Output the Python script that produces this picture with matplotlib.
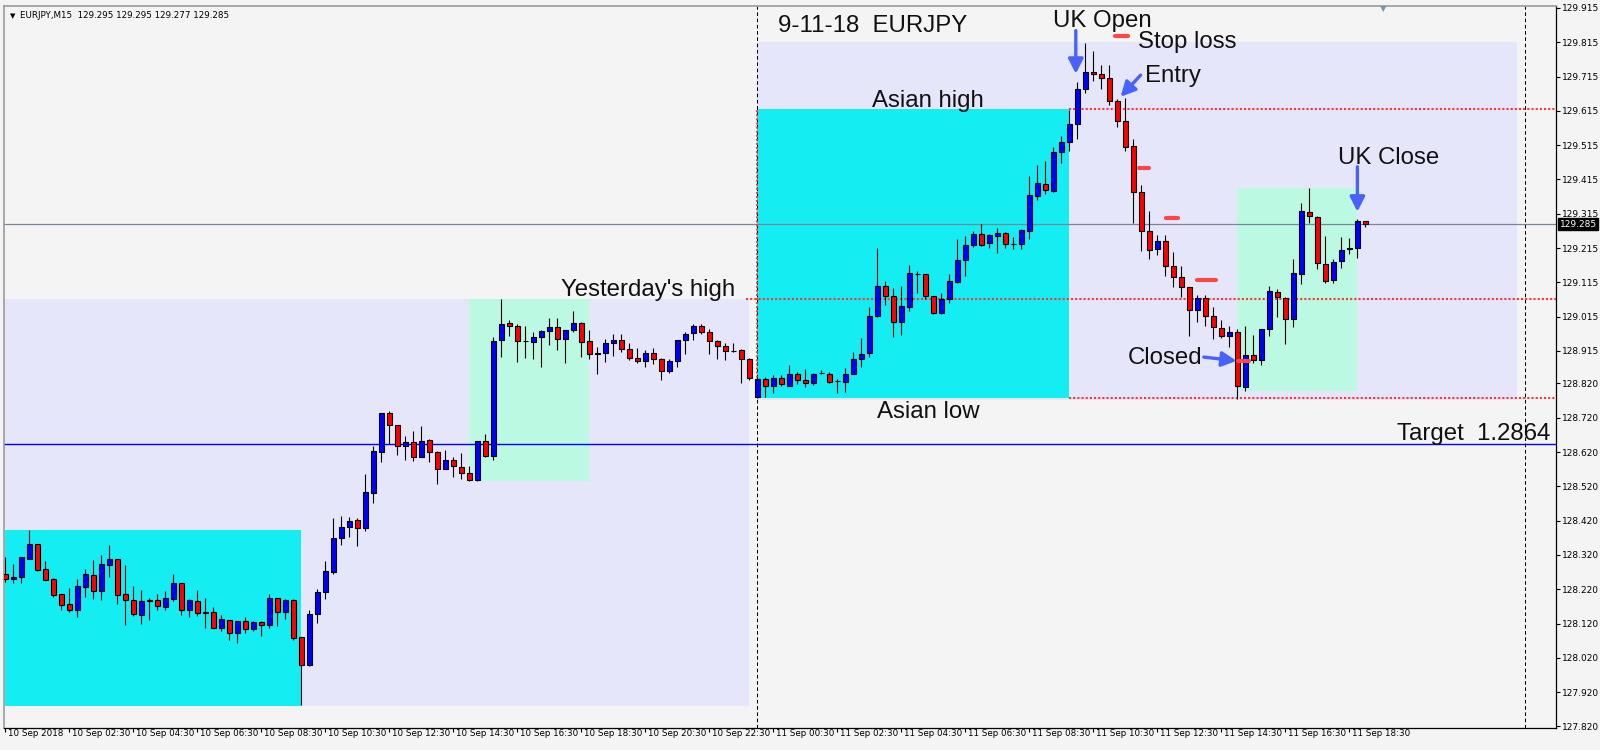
import matplotlib
matplotlib.use("Agg")
import matplotlib.pyplot as plt
import matplotlib.transforms as mtransforms
from matplotlib.patches import Rectangle

plt.rcParams['font.family'] = ['Liberation Sans', 'DejaVu Sans']

# ---------------- data (EURJPY M15, bar 0 = 10 Sep 2018 00:30) ----------------
open_ = [128.265, 128.251, 128.257, 128.309, 128.352, 128.278, 128.249, 128.205, 128.177, 128.160,
         128.228, 128.261, 128.216, 128.292, 128.307, 128.205, 128.188, 128.146, 128.187, 128.188,
         128.169, 128.192, 128.237, 128.160, 128.185, 128.153, 128.153, 128.108, 128.130, 128.093,
         128.129, 128.105, 128.124, 128.117, 128.196, 128.155, 128.189, 128.080, 127.999, 128.149,
         128.211, 128.271, 128.369, 128.401, 128.422, 128.398, 128.500, 128.619, 128.733, 128.698,
         128.638, 128.648, 128.607, 128.654, 128.620, 128.570, 128.596, 128.576, 128.558, 128.540,
         128.651, 128.610, 128.946, 128.995, 128.988, 128.943, 128.940, 128.957, 128.972, 128.984,
         128.949, 128.975, 128.995, 128.943, 128.908, 128.908, 128.937, 128.946, 128.920, 128.893,
         128.885, 128.908, 128.890, 128.855, 128.885, 128.946, 128.966, 128.987, 128.969, 128.943,
         128.928, 128.916, 128.918, 128.890, 128.781, 128.833, 128.814, 128.835, 128.814, 128.849,
         128.830, 128.820, 128.852, 128.847, 128.826, 128.823, 128.849, 128.890, 128.908, 129.017,
         129.104, 129.074, 128.998, 129.044, 129.138, 129.138, 129.074, 129.026, 129.067, 129.117,
         129.180, 129.223, 129.256, 129.229, 129.251, 129.259, 129.226, 129.226, 129.266, 129.368,
         129.401, 129.382, 129.494, 129.523, 129.576, 129.678, 129.729, 129.721, 129.710, 129.644,
         129.585, 129.511, 129.377, 129.264, 129.211, 129.235, 129.164, 129.130, 129.100, 129.034,
         129.070, 129.016, 128.981, 128.958, 128.971, 128.811, 128.903, 128.888, 128.978, 129.086,
         129.070, 129.007, 129.138, 129.319, 129.306, 129.167, 129.122, 129.177, 129.213, 129.214,
         129.295]
high = [128.313, 128.294, 128.313, 128.393, 128.352, 128.302, 128.252, 128.205, 128.224, 128.249,
        128.279, 128.305, 128.320, 128.349, 128.307, 128.290, 128.230, 128.218, 128.196, 128.205,
        128.215, 128.264, 128.237, 128.192, 128.218, 128.194, 128.167, 128.145, 128.130, 128.129,
        128.139, 128.129, 128.129, 128.206, 128.196, 128.192, 128.193, 128.080, 128.159, 128.221,
        128.302, 128.429, 128.434, 128.432, 128.428, 128.556, 128.638, 128.733, 128.740, 128.698,
        128.667, 128.681, 128.696, 128.658, 128.623, 128.625, 128.606, 128.617, 128.579, 128.653,
        128.673, 128.957, 129.066, 129.005, 128.993, 128.988, 128.969, 128.976, 129.011, 129.011,
        128.975, 129.031, 128.999, 128.976, 128.927, 128.949, 128.964, 128.964, 128.937, 128.923,
        128.918, 128.923, 128.894, 128.890, 128.946, 128.969, 128.993, 128.993, 128.978, 128.947,
        128.939, 128.939, 128.920, 128.893, 128.840, 128.840, 128.845, 128.845, 128.874, 128.854,
        128.861, 128.852, 128.859, 128.854, 128.832, 128.864, 128.911, 128.952, 129.042, 129.214,
        129.119, 129.097, 129.104, 129.165, 129.149, 129.138, 129.076, 129.083, 129.139, 129.241,
        129.250, 129.264, 129.286, 129.256, 129.274, 129.261, 129.246, 129.270, 129.426, 129.457,
        129.469, 129.510, 129.542, 129.617, 129.700, 129.814, 129.789, 129.749, 129.749, 129.649,
        129.653, 129.533, 129.398, 129.323, 129.253, 129.253, 129.202, 129.163, 129.102, 129.078,
        129.078, 129.042, 129.005, 128.987, 128.978, 128.987, 128.961, 128.979, 129.104, 129.095,
        129.073, 129.182, 129.345, 129.389, 129.309, 129.250, 129.182, 129.246, 129.243, 129.300,
        129.295]
low = [128.242, 128.237, 128.239, 128.309, 128.273, 128.248, 128.198, 128.159, 128.155, 128.140,
       128.198, 128.192, 128.189, 128.257, 128.177, 128.116, 128.142, 128.119, 128.130, 128.159,
       128.159, 128.186, 128.145, 128.140, 128.143, 128.107, 128.108, 128.098, 128.072, 128.064,
       128.093, 128.098, 128.084, 128.108, 128.113, 128.133, 128.072, 127.883, 127.997, 128.123,
       128.191, 128.266, 128.349, 128.373, 128.347, 128.391, 128.472, 128.592, 128.645, 128.612,
       128.597, 128.595, 128.605, 128.592, 128.528, 128.570, 128.548, 128.542, 128.537, 128.535,
       128.607, 128.597, 128.898, 128.959, 128.884, 128.894, 128.891, 128.869, 128.932, 128.918,
       128.881, 128.969, 128.898, 128.890, 128.849, 128.884, 128.900, 128.911, 128.888, 128.881,
       128.869, 128.876, 128.831, 128.852, 128.869, 128.907, 128.947, 128.963, 128.906, 128.891,
       128.888, 128.912, 128.822, 128.830, 128.778, 128.781, 128.793, 128.814, 128.814, 128.818,
       128.811, 128.817, 128.847, 128.820, 128.793, 128.796, 128.847, 128.867, 128.898, 129.013,
       129.048, 128.956, 128.961, 129.032, 129.083, 129.065, 129.024, 129.022, 129.056, 129.114,
       129.134, 129.219, 129.222, 129.216, 129.201, 129.216, 129.213, 129.212, 129.242, 129.355,
       129.373, 129.379, 129.464, 129.499, 129.534, 129.666, 129.703, 129.678, 129.632, 129.569,
       129.499, 129.289, 129.207, 129.182, 129.196, 129.134, 129.100, 129.073, 128.958, 129.000,
       128.989, 128.949, 128.952, 128.927, 128.774, 128.798, 128.879, 128.874, 128.958, 129.015,
       128.935, 128.984, 129.109, 129.289, 129.154, 129.112, 129.112, 129.158, 129.199, 129.185,
       129.277]
close = [128.251, 128.256, 128.313, 128.352, 128.276, 128.248, 128.204, 128.175, 128.160, 128.229,
         128.264, 128.216, 128.293, 128.307, 128.204, 128.190, 128.149, 128.186, 128.188, 128.172,
         128.196, 128.238, 128.160, 128.189, 128.152, 128.152, 128.108, 128.133, 128.093, 128.129,
         128.105, 128.124, 128.117, 128.196, 128.155, 128.189, 128.079, 127.998, 128.147, 128.211,
         128.272, 128.369, 128.401, 128.418, 128.398, 128.503, 128.622, 128.733, 128.698, 128.638,
         128.648, 128.605, 128.651, 128.619, 128.570, 128.596, 128.579, 128.558, 128.538, 128.651,
         128.610, 128.943, 128.993, 128.988, 128.943, 128.943, 128.956, 128.973, 128.984, 128.949,
         128.975, 128.995, 128.940, 128.905, 128.907, 128.937, 128.946, 128.920, 128.893, 128.885,
         128.908, 128.890, 128.855, 128.886, 128.946, 128.963, 128.987, 128.969, 128.945, 128.928,
         128.914, 128.916, 128.890, 128.835, 128.833, 128.814, 128.835, 128.818, 128.849, 128.830,
         128.820, 128.849, 128.852, 128.823, 128.826, 128.849, 128.890, 128.906, 129.017, 129.104,
         129.074, 128.998, 129.046, 129.141, 129.138, 129.076, 129.026, 129.067, 129.119, 129.180,
         129.223, 129.256, 129.225, 129.253, 129.259, 129.226, 129.226, 129.267, 129.369, 129.404,
         129.383, 129.495, 129.525, 129.576, 129.680, 129.729, 129.721, 129.710, 129.644, 129.585,
         129.509, 129.377, 129.264, 129.208, 129.235, 129.164, 129.130, 129.100, 129.034, 129.070,
         129.016, 128.985, 128.958, 128.971, 128.812, 128.903, 128.888, 128.978, 129.090, 129.073,
         129.007, 129.141, 129.323, 129.309, 129.170, 129.119, 129.173, 129.209, 129.214, 129.294,
         129.285]

time_labels = ["10 Sep 2018", "10 Sep 02:30", "10 Sep 04:30", "10 Sep 06:30", "10 Sep 08:30",
               "10 Sep 10:30", "10 Sep 12:30", "10 Sep 14:30", "10 Sep 16:30", "10 Sep 18:30",
               "10 Sep 20:30", "10 Sep 22:30", "11 Sep 00:30", "11 Sep 02:30", "11 Sep 04:30",
               "11 Sep 06:30", "11 Sep 08:30", "11 Sep 10:30", "11 Sep 12:30", "11 Sep 14:30",
               "11 Sep 16:30", "11 Sep 18:30"]
time_label_bars = [0, 8, 16, 24, 32, 40, 48, 56, 64, 72, 80, 88, 96, 104, 112, 120, 128, 136,
                   144, 152, 160, 168]
price_labels = ["129.915", "129.815", "129.715", "129.615", "129.515", "129.415", "129.315",
                "129.215", "129.115", "129.015", "128.915", "128.820", "128.720", "128.620",
                "128.520", "128.420", "128.320", "128.220", "128.120", "128.020", "127.920",
                "127.820"]
header = "EURJPY,M15  129.295 129.295 129.277 129.285"
last_price = 129.285
day_separator_bars = [94, 190]

# session rectangles
box_start = [0, 0, 58, 94, 94, 154]
box_end = [93, 37, 73, 189, 133, 169]
box_high = [129.066, 128.394, 129.066, 129.816, 129.620, 129.391]
box_low = [127.880, 127.880, 128.537, 128.772, 128.778, 128.798]
box_color = ['#e6e6fa', '#14eef2', '#bcf9e2', '#e6e6fa', '#14eef2', '#bcf9e2']

yesterday_high = 129.066
asian_high = 129.620
asian_low = 128.778
target = 128.645

# trailing stop marks
stop_bar_start = [138.7, 141.7, 145.1, 149.0, 154.1]
stop_bar_end = [140.3, 143.0, 146.6, 151.3, 155.5]
stop_price = [129.832, 129.449, 129.303, 129.123, 128.886]

# annotations
annot_text = ["9-11-18  EURJPY", "UK Open", "Stop loss", "Entry", "Asian high",
              "Yesterday's high", "Asian low", "UK Close", "Closed", "Target  1.2864"]
annot_bar = [96.6, 130.9, 141.6, 142.5, 108.3, 69.4, 108.9, 166.6, 140.3, 173.9]
annot_price = [129.846, 129.858, 129.798, 129.700, 129.626, 129.075, 128.719, 129.460,
               128.877, 128.655]

arrow_from_bar = [133.8, 141.9, 169.0, 149.8]
arrow_from_price = [129.849, 129.719, 129.452, 128.897]
arrow_to_bar = [133.8, 139.4, 169.0, 153.9]
arrow_to_price = [129.723, 129.656, 129.321, 128.886]

# ---------------- figure ----------------
BG = '#f4f4f4'
fig = plt.figure(figsize=(16, 7.5), dpi=100, facecolor=BG)
ax = fig.add_axes([4 / 1600, 1 - 728 / 750, 1552 / 1600, 722 / 750])
ax.set_facecolor(BG)
ax.set_xlim(-0.175, 193.825)
ax.set_ylim(127.8156, 129.9206)

# rectangles
for s, e, h, l, c in zip(box_start, box_end, box_high, box_low, box_color):
    ax.add_patch(Rectangle((s, l), e - s, h - l, facecolor=c, edgecolor='none', zorder=0.5))

# horizontal lines
xmax = 193.825
ax.axhline(last_price, color='#7a8696', lw=0.9, zorder=1)
ax.axhline(target, color='#0000ff', lw=1.0, zorder=1)
red_dot = '#ff3434'
ax.hlines(yesterday_high, 92.6, xmax, colors=red_dot, lw=1.5, linestyles=(0, (1, 1.0)), zorder=1.2)
ax.hlines([asian_high, asian_low], 133, xmax, colors=red_dot, lw=1.5, linestyles=(0, (1, 1.0)), zorder=1.2)

# day separators
for b in day_separator_bars:
    ax.axvline(b, color='black', lw=0.75, linestyle=(0, (3.5, 2.5)), zorder=1.1)
ax.vlines(day_separator_bars[0], asian_low, asian_high, colors=red_dot, lw=1.4,
          linestyles=(0, (1, 1.1)), zorder=1.3)

# candles
xs = list(range(len(close)))
ax.vlines(xs, low, high, colors='black', lw=0.8, zorder=3)
bottoms = [min(o, c) for o, c in zip(open_, close)]
heights = [abs(c - o) for o, c in zip(open_, close)]
fills = ['#0000ff' if c > o else '#ff0000' for o, c in zip(open_, close)]
ax.bar(xs, heights, width=0.56, bottom=bottoms, color=fills, edgecolor='black',
       linewidth=0.8, zorder=4)

# stop marks
for a, b, p in zip(stop_bar_start, stop_bar_end, stop_price):
    ax.plot([a, b], [p, p], color='#ff4646', lw=3.0, solid_capstyle='round', zorder=5)

# texts
for t, b, p in zip(annot_text, annot_bar, annot_price):
    ax.text(b, p, t, fontsize=17.3, color='#111111', ha='left', va='baseline', zorder=6)

# arrows
for fb, fp, tb, tp in zip(arrow_from_bar, arrow_from_price, arrow_to_bar, arrow_to_price):
    ax.annotate('', xy=(tb, tp), xytext=(fb, fp),
                arrowprops=dict(arrowstyle='-|>,head_length=0.55,head_width=0.28',
                                color='#4862ff', lw=2.4, mutation_scale=16,
                                shrinkA=0, shrinkB=0), zorder=6)

# axes / ticks
for side in ['right', 'bottom']:
    ax.spines[side].set_color('black')
    ax.spines[side].set_linewidth(0.9)
for side in ['top', 'left']:
    ax.spines[side].set_color('#9a9a9a')
    ax.spines[side].set_linewidth(1.2)

ax.yaxis.tick_right()
ax.set_yticks([float(s) for s in price_labels])
ax.set_yticklabels(price_labels, family='DejaVu Sans')
ax.tick_params(axis='y', direction='out', length=3, width=0.8, pad=1.5, labelsize=6.5,
               colors='black')
ax.set_xticks(time_label_bars)
ax.set_xticklabels(time_labels, ha='left', family='DejaVu Sans')
ax.tick_params(axis='x', direction='out', length=3, width=0.8, pad=-2.4, labelsize=6.3,
               colors='black')
offset = mtransforms.ScaledTranslation(2.5 / 100, 0, fig.dpi_scale_trans)
for lab in ax.get_xticklabels():
    lab.set_transform(lab.get_transform() + offset)

# last price highlight on the price scale
trans = mtransforms.blended_transform_factory(ax.transAxes, ax.transData)
ax.text(1.0 + 3.5 / 1552, last_price, f"{last_price:.3f}", transform=trans, ha='left',
        va='center', fontsize=6.5, family='DejaVu Sans', color='white', zorder=10,
        clip_on=False,
        bbox=dict(boxstyle='square,pad=0.15', facecolor='black', edgecolor='black'))

# header
fig.text(10 / 1600, 1 - 16 / 750, "\u25BC", fontsize=5, family='DejaVu Sans', va='center')
fig.text(20 / 1600, 1 - 16 / 750, header, fontsize=6.3, family='DejaVu Sans', va='center',
         color='black')
# chart shift marker
fig.text(1383 / 1600, 1 - 9 / 750, "\u25BC", fontsize=6, family='DejaVu Sans',
         va='center', ha='center', color='#8090b0')

fig.savefig("out.png", dpi=100, facecolor=BG)
